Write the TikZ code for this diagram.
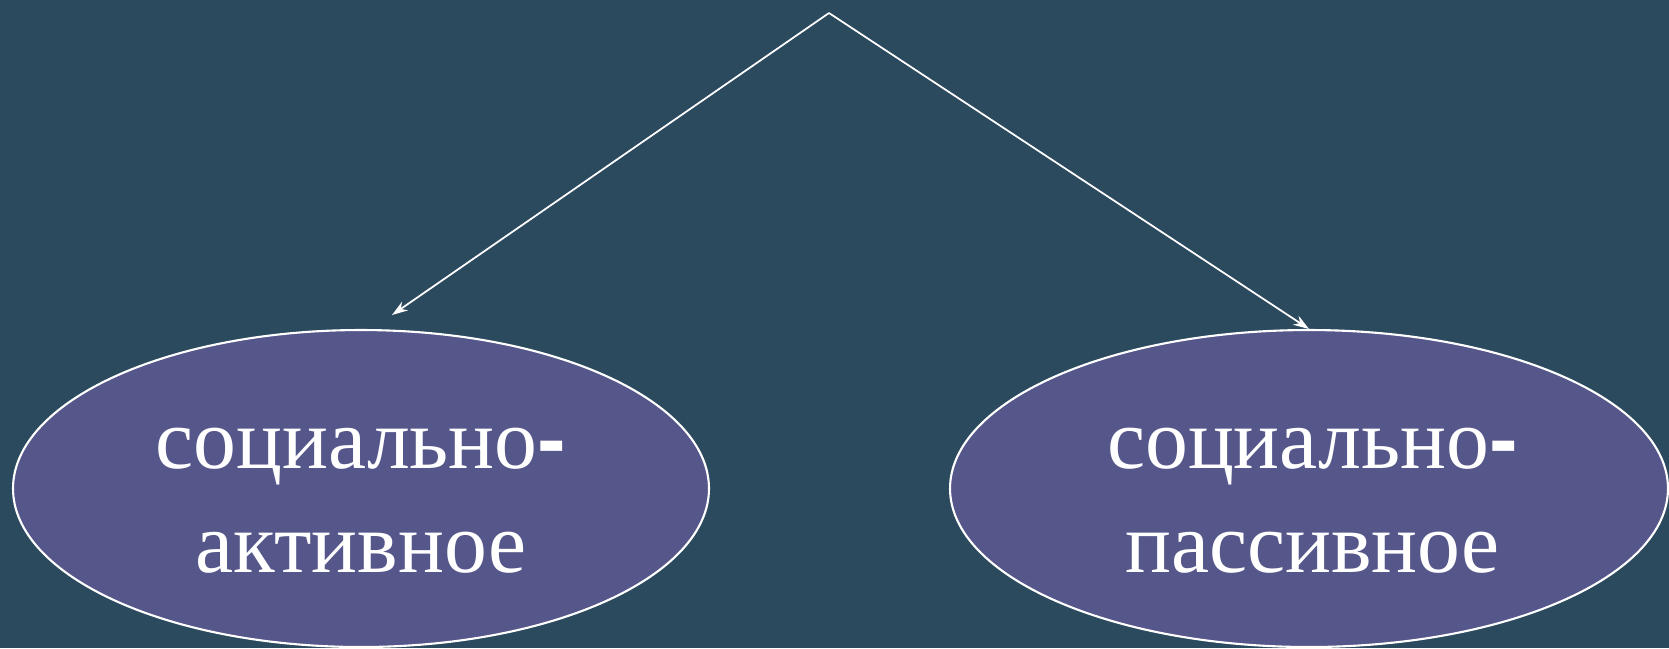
\documentclass[tikz,border=0pt]{standalone}
\usepackage{fontspec}
\setmainfont{Liberation Serif}
\newfontfamily\dashfont{Liberation Sans}
\newcommand{\thickdash}{{\dashfont\bfseries -}}
\usetikzlibrary{shapes.geometric,arrows.meta}
\definecolor{slatebg}{RGB}{43,74,94}
\definecolor{ovalfill}{RGB}{85,86,138}
\begin{document}
\begin{tikzpicture}[x=0.1cm,y=-0.1cm]
\fill[slatebg] (0,0) rectangle (166.9,64.8);
\path [use as bounding box] (0,0) rectangle (166.9,64.8);
\tikzstyle{oval} = [ellipse, draw=white, line width=0.6pt, fill=ovalfill, inner sep=0pt, minimum height=31.7mm]
\tikzstyle{ovaltext} = [text=white, align=center, yshift=-3.4pt, font=\fontsize{24.4}{29.6}\selectfont]
\tikzstyle{link} = [draw=white, line width=0.5pt, -{Stealth[length=4.5pt,width=3pt]}]
\coordinate (top) at (82.9,1.3);
\node[oval, minimum width=69.6mm] (aktiv) at (36.1,48.85) {};
\node[oval, minimum width=71.8mm] (passiv) at (130.9,48.85) {};
\node[ovaltext] (aktivlabel) at (aktiv.center) {социально\thickdash\\активное};
\node[ovaltext] (passivlabel) at ([xshift=1pt]passiv.center) {социально\thickdash\\пассивное};
\coordinate (aktivend) at (39.2,31.5);
\draw[link] (top) -- (aktivend);
\draw[link] (top) -- (passiv.north);
\end{tikzpicture}
\end{document}
